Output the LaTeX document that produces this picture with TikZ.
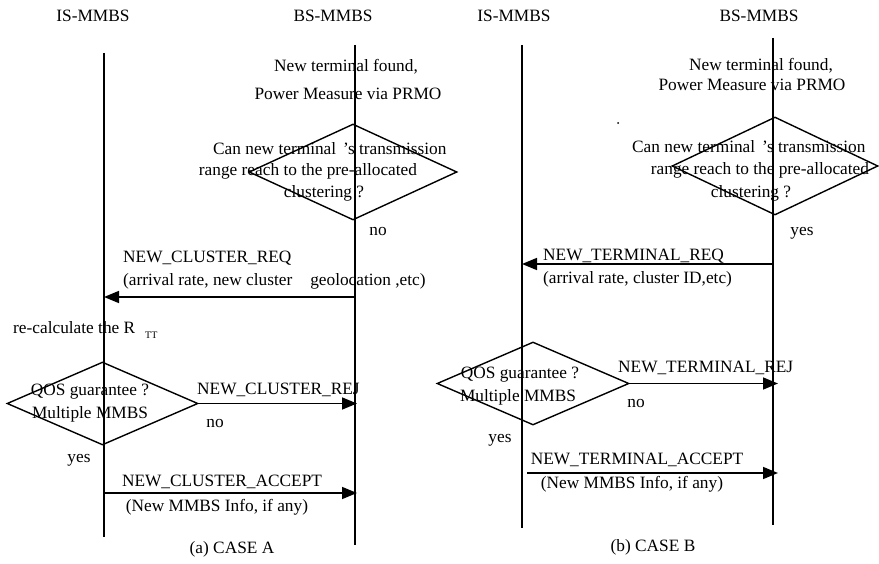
\documentclass[tikz,border=0pt]{standalone}
\usepackage{fontspec}
\setmainfont{Liberation Serif}
\usetikzlibrary{shapes.geometric,arrows.meta}
\begin{document}
\begin{tikzpicture}[x=1pt,y=-1pt,
  txt/.style={inner sep=0pt, font=\fontsize{17.3}{20}\selectfont},
  life/.style={line width=1.6pt},
  dec/.style={diamond, draw, line width=1.4pt, inner sep=0pt},
  msg/.style={line width=1.6pt, -{Triangle[length=15pt,width=12pt]}}]
\useasboundingbox (0,0) rectangle (879,564);

% ---------------- (a) CASE A ----------------
\node[txt] (aIS) at (93,16) {IS-MMBS};
\node[txt] (aBS) at (333,16) {BS-MMBS};
\coordinate (aIStop) at (104,53);
\coordinate (aISbot) at (104,537);
\coordinate (aBStop) at (355,45);
\coordinate (aBSbot) at (355,545);
\draw[life] (aIStop) -- (aISbot);
\draw[life] (aBStop) -- (aBSbot);

\node[txt] (aNew1) at (346,67) {New terminal found,};
\node[txt] (aNew2) at (348,94) {Power Measure via PRMO};

\node[dec, minimum width=208pt, minimum height=96pt] (aD1) at (353,172) {};
\node[txt, anchor=west] (aD1t1) at (213,149) {Can new terminal\hspace{7pt}’s transmission};
\node[txt] (aD1t2) at (308,171) {range reach to the pre-allocated};
\node[txt] (aD1t3) at (324,193) {clustering ?};
\node[txt] (aNo1) at (378,232) {no};

\node[txt, anchor=west] (aReq) at (123,258) {NEW\_CLUSTER\_REQ};
\node[txt, anchor=west] (aReq2) at (123,281) {(arrival rate, new cluster\hspace{18pt}geolocation ,etc)};
\coordinate (aReqS) at (355,297);
\coordinate (aReqE) at (104,297);
\draw[msg] (aReqS) -- (aReqE);

\node[txt, anchor=west] (aRecalc) at (13,330) {re-calculate the R\hspace{10pt}\raisebox{-5pt}{\fontsize{10}{10}\selectfont TT}};

\node[dec, minimum width=191pt, minimum height=83pt] (aD2) at (102.5,403.5) {};
\node[txt] (aD2t1) at (90,392) {QOS guarantee ?};
\node[txt] (aD2t2) at (90,414) {Multiple MMBS};

\node[txt, anchor=west] (aRej) at (197,390) {NEW\_CLUSTER\_REJ};
\coordinate (aRejE) at (357,403.5);
\draw[msg] (aD2.east) -- (aRejE);
\node[txt] (aNo2) at (215,424) {no};
\node[txt] (aYes) at (79,460) {yes};

\node[txt] (aAcc) at (222,482) {NEW\_CLUSTER\_ACCEPT};
\coordinate (aAccS) at (104,493);
\coordinate (aAccE) at (357,493);
\draw[msg] (aAccS) -- (aAccE);
\node[txt] (aAcc2) at (217,507) {(New MMBS Info, if any)};

\node[txt] (aCap) at (232,549) {(a) CASE A};

% ---------------- (b) CASE B ----------------
\node[txt] (bIS) at (514,16) {IS-MMBS};
\node[txt] (bBS) at (759,16) {BS-MMBS};
\coordinate (bIStop) at (522,45);
\coordinate (bISbot) at (522,528);
\coordinate (bBStop) at (773,38);
\coordinate (bBSbot) at (773,525);
\draw[life] (bIStop) -- (bISbot);
\draw[life] (bBStop) -- (bBSbot);

\node[txt] (bNew1) at (761,66) {New terminal found,};
\node[txt] (bNew2) at (752,85) {Power Measure via PRMO};
\fill (618,123) circle (1pt);

\node[dec, minimum width=206pt, minimum height=98pt] (bD1) at (775,166) {};
\node[txt, anchor=west] (bD1t1) at (632,147) {Can new terminal\hspace{7pt}’s transmission};
\node[txt] (bD1t2) at (760,170) {range reach to the pre-allocated};
\node[txt] (bD1t3) at (751,193) {clustering ?};
\node[txt] (bYes1) at (802,233) {yes};

\node[txt, anchor=west] (bReq) at (543,256) {NEW\_TERMINAL\_REQ};
\node[txt, anchor=west] (bReq2) at (543,279) {(arrival rate, cluster ID,etc)};
\coordinate (bReqS) at (773,264);
\coordinate (bReqE) at (522,264);
\draw[msg] (bReqS) -- (bReqE);

\node[dec, minimum width=192pt, minimum height=83pt] (bD2) at (533,383.5) {};
\node[txt] (bD2t1) at (520,375) {QOS guarantee ?};
\node[txt] (bD2t2) at (518,397) {Multiple MMBS};

\node[txt, anchor=west] (bRej) at (618,368) {NEW\_TERMINAL\_REJ};
\coordinate (bRejE) at (778,383.5);
\draw[msg] (bD2.east) -- (bRejE);
\node[txt] (bNo) at (636,404) {no};
\node[txt] (bYes2) at (500,440) {yes};

\node[txt] (bAcc) at (637,460) {NEW\_TERMINAL\_ACCEPT};
\coordinate (bAccS) at (527,473);
\coordinate (bAccE) at (778,473);
\draw[msg] (bAccS) -- (bAccE);
\node[txt] (bAcc2) at (632,484) {(New MMBS Info, if any)};

\node[txt] (bCap) at (653,547) {(b) CASE B};
\end{tikzpicture}
\end{document}
